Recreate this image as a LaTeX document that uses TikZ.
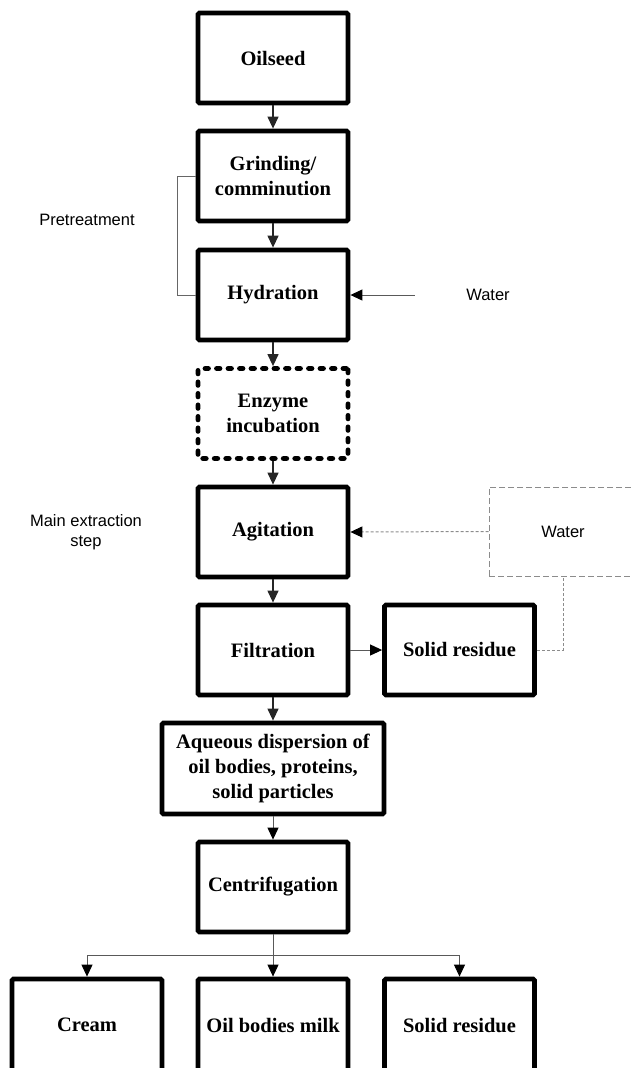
\documentclass[tikz,border=0pt]{standalone}
\usepackage{fontspec}
\setmainfont{Liberation Serif}
\newfontfamily\labelfont{Liberation Sans}
\usetikzlibrary{arrows.meta}
\begin{document}
\begin{tikzpicture}[x=1pt,y=-1pt,
  stepbox/.style={draw=black,line width=4.8pt,rounded corners=1.5pt,minimum width=150pt,minimum height=90pt,
    inner sep=0pt,align=center,font=\fontsize{20.5}{25}\selectfont\bfseries},
  enzbox/.style={stepbox,line cap=round,dash pattern=on 3.5pt off 8pt},
  sidelabel/.style={align=center,font=\labelfont\fontsize{16.5}{20}\selectfont},
  flow/.style={line width=1.3pt,draw=black!85,-{Triangle[length=12pt,width=11pt]}},
  thinflow/.style={line width=1pt,draw=black!65,-{Triangle[length=12pt,width=11pt,color=black]}},
  dashflow/.style={line width=1pt,draw=black!45,dash pattern=on 3pt off 2pt,-{Triangle[length=12pt,width=11pt,color=black]}},
  dashline/.style={line width=1pt,draw=black!45,dash pattern=on 3pt off 2pt},
  bracket/.style={line width=0.9pt,draw=black!60}
]
\useasboundingbox (0,0) rectangle (630,1068);

\node[stepbox] (oil) at (273,58) {Oilseed};
\node[stepbox] (grind) at (273,176) {Grinding/\\comminution};
\node[stepbox] (hyd) at (273,295) {Hydration};
\node[enzbox] (enz) at (273,413.5) {Enzyme\\incubation};
\node[stepbox] (agit) at (273,532) {Agitation};
\node[stepbox] (filt) at (273,650) {Filtration};
\node[stepbox] (sr1) at (459.5,650) {Solid residue};
\node[stepbox,minimum width=222pt,minimum height=91pt] (aq) at (273,768.5) {Aqueous dispersion of\\oil bodies, proteins,\\solid particles};
\node[stepbox] (cent) at (273,887) {Centrifugation};
\node[stepbox,minimum height=92pt] (cream) at (87,1025) {Cream};
\node[stepbox,minimum height=92pt] (milk) at (273,1025) {Oil bodies milk};
\node[stepbox,minimum height=92pt] (sr2) at (459.5,1025) {Solid residue};

\node[sidelabel] (pre) at (87,220) {Pretreatment};
\node[sidelabel] (mes) at (86,532) {Main extraction\\step};
\node[sidelabel,minimum width=146pt,inner sep=0pt] (w1) at (488,295) {Water};
\node[sidelabel,draw=black!45,line width=1pt,dash pattern=on 6pt off 3pt,minimum width=148pt,minimum height=89pt] (w2) at (563,531.5) {Water};

\draw[flow] (oil) -- (grind);
\draw[flow] (grind) -- (hyd);
\draw[flow] (hyd) -- (enz);
\draw[flow] (enz) -- (agit);
\draw[flow] (agit) -- (filt);
\draw[flow] (filt) -- (aq);
\draw[thinflow] (filt) -- (sr1);
\draw[thinflow] (aq) -- (cent);
\draw[thinflow] (w1) -- (hyd);
\draw[bracket] (grind.west) -- (177,176) |- (hyd.west);

\draw[thinflow] (cent.south) -- ++(0,21) -| (cream.north);
\draw[thinflow] (cent.south) -- (milk.north);
\draw[thinflow] (cent.south) -- ++(0,21) -| (sr2.north);

\draw[dashflow] (w2.west) -- (agit.east);
\draw[dashline] (sr1.east) -| (w2.south);
\end{tikzpicture}
\end{document}
